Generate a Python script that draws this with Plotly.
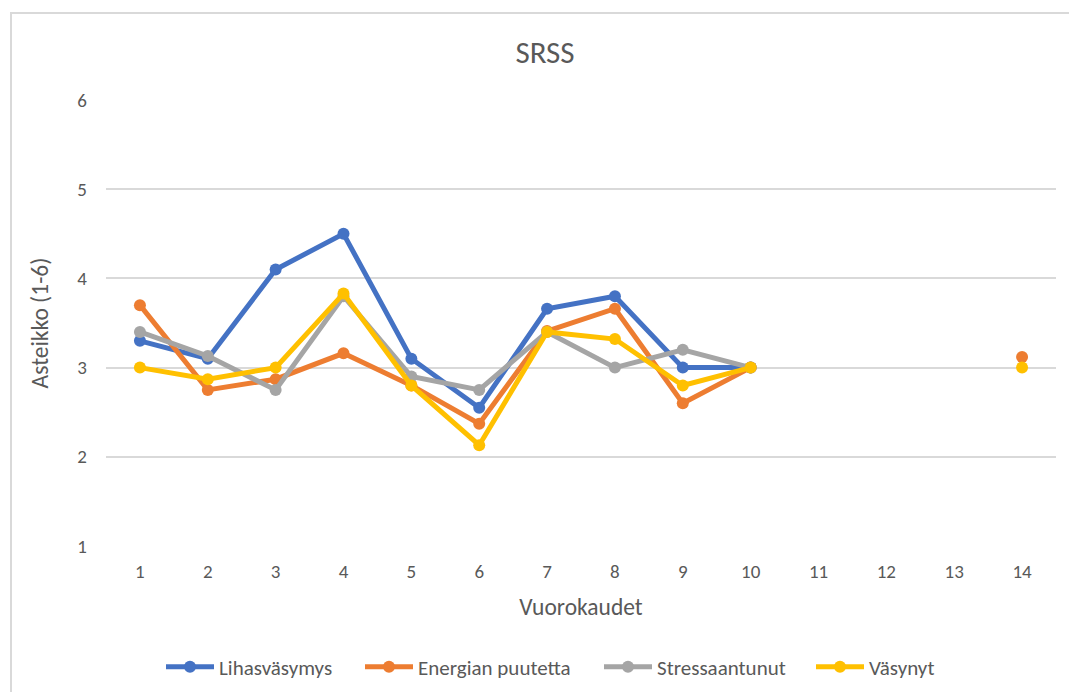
import plotly.graph_objects as go

days = list(range(1, 15))
tick_labels = [str(d) for d in days]

lihas = [3.3, 3.1, 4.1, 4.5, 3.1, 2.55, 3.66, 3.8, 3.0, 3.0, None, None, None, None]
energia = [3.7, 2.75, 2.87, 3.16, 2.8, 2.37, 3.41, 3.66, 2.6, 3.0, None, None, None, 3.12]
stressi = [3.4, 3.13, 2.75, 3.8, 2.9, 2.75, 3.4, 3.0, 3.2, 3.0, None, None, None, None]
vasynyt = [3.0, 2.87, 3.0, 3.83, 2.8, 2.13, 3.4, 3.32, 2.8, 3.0, None, None, None, 3.0]

series = [
    ("Lihasväsymys", lihas, "#4472C4"),
    ("Energian puutetta", energia, "#ED7D31"),
    ("Stressaantunut", stressi, "#A5A5A5"),
    ("Väsynyt", vasynyt, "#FFC000"),
]

FONT = "Carlito, Calibri, Lato, sans-serif"
TXT = "#595959"

# left edge (px) of each legend entry in the reference
legend_starts = [166, 365, 604, 816]
legend_ids = ["legend", "legend2", "legend3", "legend4"]

fig = go.Figure()
for (name, vals, col), lid in zip(series, legend_ids):
    fig.add_trace(go.Scatter(
        x=days, y=vals, name=name, mode="lines+markers",
        line=dict(color=col, width=5),
        marker=dict(color=col, size=12),
        connectgaps=False, legend=lid,
    ))

# plot area: x 106..1056, y 100..546
L, R, T, B = 106, 1056, 100, 546
W, H = R - L, B - T

def px(x):
    return (x - L) / W

def py(y):
    return (B - y) / H

layout_legends = {}
for lid, start in zip(legend_ids, legend_starts):
    layout_legends[lid] = dict(
        orientation="h", x=(start - 5) / 1069, xanchor="left", xref="container",
        y=1 - 667 / 692, yanchor="middle", yref="container",
        font=dict(size=21, color=TXT, family=FONT), itemwidth=48,
        bgcolor="rgba(0,0,0,0)",
    )

fig.update_layout(
    width=1069, height=692,
    margin=dict(l=L, r=1069 - R, t=T, b=692 - B),
    paper_bgcolor="white", plot_bgcolor="white",
    font=dict(family=FONT, color=TXT, size=19),
    title=dict(text="SRSS", x=545 / 1069, xref="container", y=1 - 52 / 692,
               yref="container", xanchor="center", yanchor="middle",
               font=dict(size=31, color=TXT, family=FONT)),
    xaxis=dict(
        range=[0.5, 14.5], tickmode="array", tickvals=days, ticktext=tick_labels,
        showgrid=False, zeroline=False, showline=False, ticks="",
        tickfont=dict(size=19, color=TXT), ticklabelstandoff=12,
        title=dict(text="Vuorokaudet", font=dict(size=23.5, color=TXT), standoff=16),
    ),
    yaxis=dict(
        range=[1, 6], tickvals=[1, 2, 3, 4, 5, 6], showgrid=True,
        gridcolor="#D9D9D9", gridwidth=2, zeroline=False, showline=False,
        ticks="", tickfont=dict(size=19, color=TXT), ticklabelstandoff=18,
        title=dict(text="Asteikko (1-6)", font=dict(size=23.5, color=TXT), standoff=22),
    ),
    shapes=[dict(
        type="rect", xref="paper", yref="paper",
        x0=px(11), x1=px(1085), y0=py(710), y1=py(13),
        line=dict(color="#D9D9D9", width=2), fillcolor="rgba(0,0,0,0)",
        layer="below",
    )],
    showlegend=True,
    **layout_legends,
)

fig.write_html(
    "out.html",
    config={"displayModeBar": False},
    post_script="document.body.style.margin='0';document.body.style.overflow='hidden';",
)
